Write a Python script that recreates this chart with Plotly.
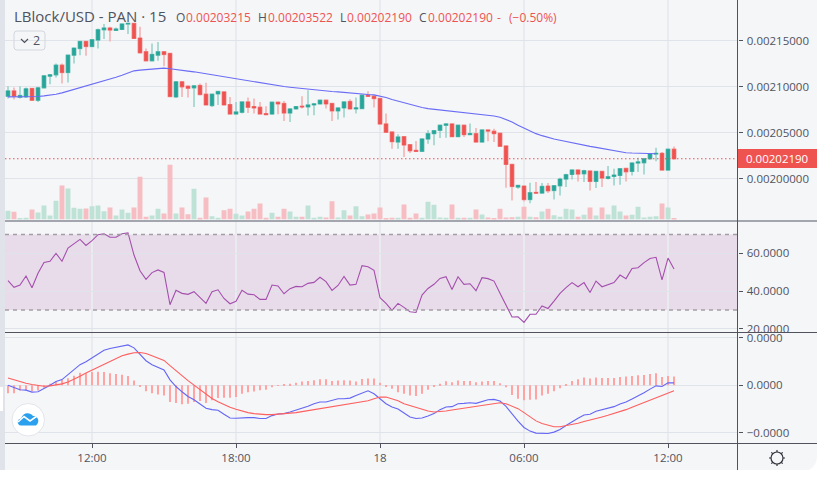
import plotly.graph_objects as go

W, H = 817, 479
FONT = "Open Sans"
TEXT = "#50535e"
BG = "#f5f6f8"
GREEN = "#26a69a"
RED = "#ef5350"
GREEN_WICK = "#8fcfc6"
RED_WICK = "#f5a9a9"
GREEN_VOL = "#bfe2d6"
RED_VOL = "#f6bdc2"

# Prices in units of 0.00000001
OPEN = [208968,209547,208859,208895,209801,208533,209874,211142,211286,212337,211540,213424,214149,214909,214366,215054,216178,216359,216105,216214,216793,216866,215272,213786,212808,213424,213786,213605,208895,210526,210055,209874,210127,209185,207953,209221,209439,208062,207048,207229,208352,207845,207772,207084,207048,208316,208171,207156,207591,207881,207808,208026,208134,208533,208171,207374,207700,208388,207591,207627,209076,208968,208714,205961,205091,204004,204584,203714,203098,202990,204330,204910,205272,205816,205961,204584,205816,204801,204910,204004,205309,205164,204946,203569,201577,199113,199222,197773,198534,198461,199222,198751,199258,199983,200490,200961,200562,200852,199729,200816,200055,200273,200381,201142,200816,201722,201758,202190,202700,202772,200961,203215]
HIGH = [210055,209910,210055,209910,209801,209982,211250,211359,212518,212518,213424,214257,214982,214982,215163,216322,216793,216504,216431,216866,216866,216938,216504,214149,214692,214837,213786,213605,210598,210526,210055,210091,210344,210417,209185,209475,209439,208895,208352,208424,208823,208714,208352,207881,208352,208316,208461,207627,207845,208968,209620,208134,208533,208533,208171,207736,208424,208642,208823,209113,209511,209113,208714,207084,205091,204838,204584,203714,204113,204367,205272,205236,205816,205997,205961,205816,205816,205997,205526,205309,205309,205453,204946,203569,201577,199294,199222,199584,199657,199548,199548,199258,200128,200562,200997,200961,200997,200852,200816,200816,201396,201106,201178,201142,201722,202301,202265,202736,203388,202917,203215,203522]
LOW = [208714,208605,208714,208787,208533,208352,209801,210272,210997,210344,210453,212518,213424,213352,214330,214149,215163,214909,216069,216141,215707,215236,213605,212808,212736,212808,212228,208932,208787,208895,208823,207808,209040,208026,207808,208026,207953,207011,207011,207084,207156,207084,206975,206939,206939,207011,206287,206178,207591,207627,206866,206903,208098,207627,206287,206432,206649,207555,207084,207591,208968,207736,205961,205055,203280,203280,202374,202809,202990,202990,203823,203642,204439,204475,204584,204548,204548,204729,204004,203968,204077,204004,203461,199041,197664,198932,197555,197374,198461,198389,198461,197773,198207,199113,199946,199729,199657,198751,199005,199113,199946,199294,199367,199729,200381,200744,200490,202084,201903,200961,200925,202190]
CLOSE = [209547,208968,209040,209765,208533,209874,211178,211286,212337,211540,213424,214185,214909,214366,215091,216178,216359,216141,216250,216793,216866,215236,213678,212808,213497,213786,213497,208932,210526,209982,209837,210091,209149,208026,209185,209475,208026,207048,207265,208352,207772,207700,207048,206975,208316,208134,207156,207591,207845,207808,208026,208134,208533,208134,207374,207700,208352,207591,207700,209076,208968,208714,205961,205055,204040,204548,203678,203062,202990,204330,204910,205236,205816,205961,204584,205816,204801,204910,204004,205309,205200,204910,203533,201577,199186,199294,197773,198497,198461,199186,198715,199258,199983,200454,200961,200526,200888,199729,200816,200091,200236,200417,201106,200780,201722,201830,202190,202700,202772,200961,203215,202190]
MA = [208895,208895,208895,208895,208895,208932,209004,209077,209185,209330,209511,209692,209874,210055,210236,210417,210635,210816,211033,211250,211504,211721,211794,211830,211902,211975,212011,211939,211830,211757,211685,211613,211504,211431,211323,211214,211105,210997,210888,210779,210670,210562,210453,210344,210163,210091,210019,209946,209874,209801,209692,209656,209584,209547,209475,209439,209366,209330,209258,209185,209149,209113,209004,208823,208605,208424,208243,208062,207881,207736,207627,207555,207482,207410,207338,207265,207193,207120,207048,206975,206903,206830,206685,206468,206178,205816,205490,205164,204910,204693,204475,204330,204185,204040,203896,203787,203642,203533,203424,203316,203135,203026,202917,202845,202808,202772,202772,202736,202736]
VOLUME = [8.7,7.7,1,1.7,10,7,14,4,18.7,34,31,11.7,10.7,11,13.3,14,8.3,12,4,10,6.7,12,42.7,2.7,4,10.7,6,54.7,6,12,5.3,30.7,1.7,22,3.3,1.7,9.3,10.7,5.7,4,8,10.7,16,1.7,6.7,2.7,10.7,8,2.7,2.7,14,1.7,2.7,2,18.3,2,9.3,4,13.3,3.3,5,6,12,1.3,1.7,1.7,15,1.7,6,1.7,17.7,14.7,2,1.7,15,1.7,1.7,1.7,10,5,2,1.3,10.7,2,2.3,2.7,12.7,2.7,2.3,8,10.7,4.3,2.7,10.7,10,2.7,4.7,12,4,12,5,14,8,4,4.7,12.7,2,2.7,3.3,16,12,1.3]
RSI = [45.5,42.0,43.2,48.0,41.8,49.4,55.2,55.8,60,55.8,62.8,65.3,67.4,64.2,66.7,69.9,70.4,68.5,68.5,70.4,70.8,59.1,50.8,46.2,49.8,51.2,49.9,32.8,40.4,38.8,38.3,39.7,36.7,33.5,39.7,40.7,36.1,33.3,34.6,40.4,38.4,38.1,35.6,35.6,43.2,42.7,38.6,41.3,42.5,42.3,44.1,44.6,47.3,45,40.4,43,47.8,43.2,43.6,53.5,52.9,51,36.5,33.5,29.8,33.5,31.4,29.1,28.7,37.9,41.4,43.6,46.7,47.6,40.9,47.6,43.6,43.9,40.2,47.1,46.6,45.3,38.8,32.3,26.3,26.4,23.4,27.7,27.7,32.1,30.8,34.7,38.8,41.8,44.5,42.3,44.5,39.3,45.3,42.3,43.2,44.5,48.5,46.6,52,52.4,55.1,57.3,57.9,45.9,57.5,51.7]
# MACD values in units of 0.00000001
MACD = [0,-56,-97,-104,-146,-139,-76,0,76,118,222,326,431,493,569,653,736,771,792,819,847,785,653,514,431,375,319,111,-28,-139,-236,-306,-389,-486,-514,-528,-611,-688,-694,-681,-681,-681,-701,-701,-639,-604,-597,-563,-528,-493,-444,-389,-354,-354,-319,-285,-285,-271,-215,-160,-118,-181,-285,-389,-458,-500,-583,-667,-701,-688,-646,-597,-514,-458,-451,-389,-382,-368,-382,-340,-306,-299,-333,-444,-611,-757,-889,-965,-1007,-1014,-1014,-986,-931,-847,-764,-694,-625,-611,-549,-521,-493,-451,-396,-354,-292,-229,-160,-83,-14,-28,49,49]
SIGNAL = [153,111,69,42,14,-7,-21,-14,0,28,69,125,187,257,319,382,444,507,562,618,653,681,688,667,618,576,521,410,313,201,97,0,-97,-187,-278,-347,-410,-465,-507,-549,-576,-597,-611,-618,-618,-611,-604,-597,-576,-556,-535,-514,-493,-472,-451,-431,-410,-396,-375,-354,-326,-285,-250,-250,-285,-326,-389,-431,-472,-514,-542,-563,-556,-542,-521,-500,-479,-458,-437,-417,-396,-382,-368,-389,-437,-493,-576,-667,-750,-806,-847,-875,-875,-854,-826,-799,-764,-736,-701,-667,-632,-597,-556,-514,-465,-417,-361,-312,-257,-215,-167,-118]
HIST = [-167,-167,-111,-111,-125,-111,-56,28,69,111,146,201,264,250,278,285,278,250,236,222,194,97,-21,-125,-167,-194,-215,-354,-375,-403,-389,-354,-333,-375,-319,-271,-264,-264,-250,-181,-146,-132,-104,-97,-42,-7,7,28,49,76,90,104,125,125,90,97,104,97,76,132,139,139,49,-28,-76,-146,-181,-215,-229,-181,-97,-28,28,83,63,97,90,90,63,76,90,90,42,-42,-208,-285,-319,-306,-299,-215,-181,-125,-63,14,90,125,160,139,160,153,153,153,174,181,194,208,215,236,250,174,194,181]

TIME_TICKS = [14, 38, 62, 86, 110]
TIME_LABELS = ["12:00", "18:00", "18", "06:00", "12:00"]
PRICE_TICKS = [0.00200, 0.00205, 0.00210, 0.00215]
RSI_TICKS = [20, 40, 60]
MACD_TICKS = [-0.00001, 0, 0.00001]
MACD_LABELS = ["\u22120.0000", "0.0000", "0.0000"]
LAST_PRICE = "0.00202190"
TITLE = "LBlock/USD - PAN \u00b7 15"
OHLC_PARTS = [("O", 176, TEXT), ("0.00203215", 186, RED), ("H", 258, TEXT), ("0.00203522", 268, RED),
              ("L", 340, TEXT), ("0.00202190", 347, RED), ("C", 419, TEXT), ("0.00202190", 428, RED),
              ("-", 497, RED), ("(\u22120.50%)", 509, RED)]

E8 = 1e-8
o = [v * E8 for v in OPEN]
h = [v * E8 for v in HIGH]
l = [v * E8 for v in LOW]
c = [v * E8 for v in CLOSE]
x = list(range(len(o)))


def px(v):
    return v / W


def py(v):
    return 1 - v / H


fig = go.Figure()

# volume (overlaid axis)
vol_col = [GREEN_VOL if cc >= oo else RED_VOL for oo, cc in zip(o, c)]
fig.add_bar(x=x, y=VOLUME, marker=dict(color=vol_col, line_width=0), width=0.82, xaxis="x", yaxis="y4")

# wicks then bodies
fig.add_candlestick(x=x, open=o, high=h, low=l, close=c, xaxis="x", yaxis="y", whiskerwidth=0,
                    increasing=dict(line=dict(color=GREEN_WICK, width=1.4), fillcolor=GREEN_WICK),
                    decreasing=dict(line=dict(color=RED_WICK, width=1.4), fillcolor=RED_WICK))
fig.add_candlestick(x=x, open=o, high=[max(a, b) for a, b in zip(o, c)], low=[min(a, b) for a, b in zip(o, c)],
                    close=c, xaxis="x", yaxis="y", whiskerwidth=0,
                    increasing=dict(line=dict(color=GREEN, width=0.6), fillcolor=GREEN),
                    decreasing=dict(line=dict(color=RED, width=0.6), fillcolor=RED))
fig.add_scatter(x=x[:len(MA)], y=[v * E8 for v in MA], mode="lines", line=dict(color="#6a6cf6", width=1.1),
                xaxis="x", yaxis="y")

# RSI
fig.add_scatter(x=x, y=RSI, mode="lines", line=dict(color="#a44fae", width=1.1), xaxis="x2", yaxis="y2")

# MACD
fig.add_bar(x=x, y=[v * E8 for v in HIST], marker=dict(color="#ffa3a3", line_width=0), width=0.34,
            xaxis="x3", yaxis="y3")
fig.add_scatter(x=x, y=[v * E8 for v in MACD], mode="lines", line=dict(color="#6466f5", width=1.1),
                xaxis="x3", yaxis="y3")
fig.add_scatter(x=x, y=[v * E8 for v in SIGNAL], mode="lines", line=dict(color="#ff5f5f", width=1.1),
                xaxis="x3", yaxis="y3")

X_RANGE = [-0.5, 121.58]
XDOM = [px(5), px(737.5)]
GRID_V = "#e9ebef"
GRID_H = "#e1e3ea"


def xaxis(anchor, labels=False):
    return dict(domain=XDOM, range=X_RANGE, anchor=anchor, showgrid=True, gridcolor=GRID_V, gridwidth=2,
                tickvals=TIME_TICKS, ticktext=TIME_LABELS if labels else None, showticklabels=labels,
                ticks="outside" if labels else "", ticklen=4, tickcolor=TEXT, tickwidth=1,
                tickfont=dict(family=FONT, size=11.5, color=TEXT), zeroline=False, rangeslider=dict(visible=False),
                showline=False, fixedrange=True, automargin=False)


def yaxis(anchor, dom, rng, ticks, **kw):
    return dict(domain=[py(dom[1]), py(dom[0])], range=rng, anchor=anchor, side="right", tickvals=ticks,
                showgrid=True, gridcolor=GRID_H, gridwidth=1.2, zeroline=False, ticks="outside", ticklen=4,
                tickcolor=TEXT, tickwidth=1, tickfont=dict(family=FONT, size=11.5, color=TEXT),
                ticklabelstandoff=2, showline=False, fixedrange=True, automargin=False, **kw)


shapes = []


def rect(x0, y0, x1, y1, color, layer="below"):
    shapes.append(dict(type="rect", xref="paper", yref="paper", x0=px(x0), x1=px(x1), y0=py(y0), y1=py(y1),
                       fillcolor=color, line_width=0, layer=layer))


def hline(y, x0, x1, color, width=1):
    shapes.append(dict(type="line", xref="paper", yref="paper", x0=px(x0), x1=px(x1), y0=py(y), y1=py(y),
                       line=dict(color=color, width=width), layer="above"))


# page frame
rect(0, 0, 5, 470, "#e1e3ea", "above")
rect(0, 470, W, H, "#ffffff", "above")
shapes.append(dict(type="path", xref="paper", yref="paper", layer="above", fillcolor="#ffffff", line_width=0,
                   path="M %f %f L %f %f L %f %f Q %f %f %f %f Z" % (px(817), py(455), px(817), py(471), px(803), py(471),
                                                                    px(817), py(470), px(817), py(455))))
# RSI band and levels
shapes.append(dict(type="rect", xref="x2 domain", yref="y2", x0=0, x1=1, y0=30, y1=70, fillcolor="#e9dcea",
                   line_width=0, layer="below"))
for lvl in (30, 70):
    shapes.append(dict(type="line", xref="x2 domain", yref="y2", x0=0, x1=1, y0=lvl, y1=lvl,
                       line=dict(color="#a59da6", width=1.4, dash="4px,4px"), layer="above"))
# last price line
shapes.append(dict(type="line", xref="x domain", yref="y", x0=0, x1=1, y0=c[-1], y1=c[-1],
                   line=dict(color=RED, width=1.2, dash="1.5px,2.5px"), layer="above"))
# pane separators
hline(221, 5, 817, "#a3a6af", 2)
hline(332.5, 5, 817, TEXT, 1)
hline(443.5, 5, 817, TEXT, 1)
shapes.append(dict(type="line", xref="paper", yref="paper", x0=px(737.5), x1=px(737.5), y0=py(0), y1=py(470),
                   line=dict(color=TEXT, width=1), layer="above"))
# last price tag
rect(738, 149, 817, 168, RED, "above")
# legend collapse button
shapes.append(dict(type="path", xref="paper", yref="paper", layer="above", fillcolor="rgba(0,0,0,0)",
                   line=dict(color="#d3d6dd", width=1),
                   path="M %f %f L %f %f Q %f %f %f %f L %f %f Q %f %f %f %f L %f %f Q %f %f %f %f L %f %f Q %f %f %f %f Z" % (
                       px(17), py(31), px(42), py(31), px(45), py(31), px(45), py(34), px(45), py(47), px(45), py(50), px(42), py(50),
                       px(17), py(50), px(14), py(50), px(14), py(47), px(14), py(34), px(14), py(31), px(17), py(31))))
shapes.append(dict(type="path", xref="paper", yref="paper", layer="above", line=dict(color=TEXT, width=1.2),
                   path="M %f %f L %f %f L %f %f" % (px(21), py(39), px(24.5), py(42.5), px(28), py(39))))
# logo
rect(0, 387, 3, 411, "#ffffff", "above")
shapes.append(dict(type="circle", xref="paper", yref="paper", layer="above", fillcolor="#ffffff",
                   line=dict(color="#e3e5ea", width=1), x0=px(12), x1=px(44.5), y0=py(403.5), y1=py(436)))
shapes.append(dict(type="path", xref="paper", yref="paper", layer="above", fillcolor="#2aa0ee", line_width=0,
                   path="M %f %f C %f %f %f %f %f %f C %f %f %f %f %f %f C %f %f %f %f %f %f Z" % (
                       px(21), py(425.5),
                       px(17), py(425.5), px(16.5), py(419), px(21), py(418.5),
                       px(23), py(412), px(30), py(412), px(33), py(416),
                       px(37), py(415), px(41), py(421), px(36), py(425.5))))
shapes.append(dict(type="path", xref="paper", yref="paper", layer="above", line=dict(color="#ffffff", width=1.6),
                   path="M %f %f L %f %f L %f %f L %f %f" % (px(18), py(422), px(24), py(416.5), px(30), py(421), px(37), py(416))))
# settings gear
gear = []
for dx0, dy0, dx1, dy1 in [(0, -6, 0, -8), (0, 6, 0, 8), (-6, 0, -8, 0), (6, 0, 8, 0), (-4.3, -4.3, -5.7, -5.7),
                           (4.3, -4.3, 5.7, -5.7), (-4.3, 4.3, -5.7, 5.7), (4.3, 4.3, 5.7, 5.7)]:
    gear.append("M %f %f L %f %f" % (px(777 + dx0), py(458 + dy0), px(777 + dx1), py(458 + dy1)))
shapes.append(dict(type="path", xref="paper", yref="paper", layer="above", line=dict(color="#2f323a", width=1.2),
                   path=" ".join(gear)))
shapes.append(dict(type="circle", xref="paper", yref="paper", layer="above", line=dict(color="#2f323a", width=1.2),
                   x0=px(771), x1=px(783), y0=py(452), y1=py(464)))

ann = []


def label(text, x0, yc, size, color, anchor="left"):
    ann.append(dict(text=text, xref="paper", yref="paper", x=px(x0), y=py(yc), xanchor=anchor, yanchor="middle",
                    showarrow=False, font=dict(family=FONT, size=size, color=color), borderpad=0, borderwidth=0))


label(TITLE, 14, 16.5, 15, TEXT)
for text, xp, col in OHLC_PARTS:
    label(text, xp, 17, 12, col)
label("2", 33, 40.5, 12.5, TEXT)
label(LAST_PRICE, 746, 158.5, 11.5, "#ffffff")

fig.update_layout(
    width=W, height=H, margin=dict(l=0, r=0, t=0, b=0, autoexpand=False), autosize=False,
    paper_bgcolor=BG, plot_bgcolor="rgba(0,0,0,0)",
    showlegend=False, barmode="overlay", boxmode="overlay", boxgap=0.2,
    hovermode=False,
    xaxis=xaxis("y"), xaxis2=xaxis("y2"), xaxis3=xaxis("y3", True),
    yaxis=yaxis("x", (0, 219.5), [0.001956, 0.00219402], PRICE_TICKS, tickformat=".8f"),
    yaxis2=yaxis("x2", (222, 331.5), [18.6, 76.6], RSI_TICKS, tickformat=".4f"),
    yaxis3=yaxis("x3", (333, 443), [-0.00001215, 0.00001097], MACD_TICKS, ticktext=MACD_LABELS),
    yaxis4=dict(domain=[py(219.5), py(0)], range=[0, 219.5], overlaying="y", visible=False, fixedrange=True),
    shapes=shapes, annotations=ann,
)

fig.write_html("out.html", config=dict(displayModeBar=False),
               post_script="document.body.style.margin='0';document.body.style.overflow='hidden';")
